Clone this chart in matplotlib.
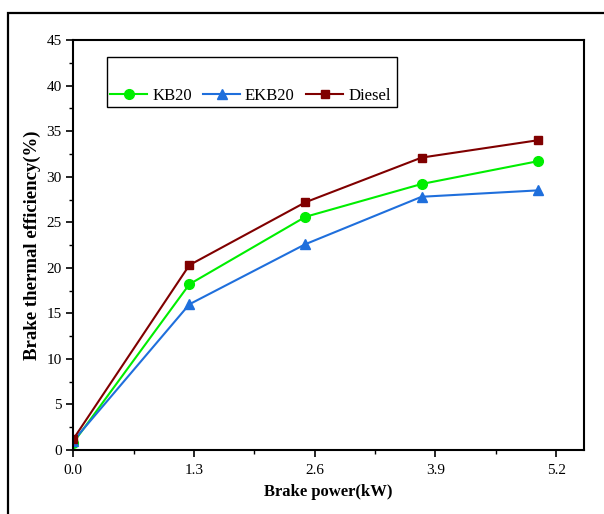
import matplotlib
matplotlib.use("Agg")
import matplotlib.pyplot as plt
from matplotlib.patches import Rectangle

# brake power (kW) and brake thermal efficiency (%) per fuel
power = [0.0, 1.25, 2.5, 3.75, 5.0]
kb20 = [0.8, 18.2, 25.6, 29.2, 31.7]
ekb20 = [1.0, 16.0, 22.6, 27.8, 28.5]
diesel = [1.2, 20.3, 27.2, 32.1, 34.0]

x_ticks = [0.0, 1.3, 2.6, 3.9, 5.2]
y_ticks = [0, 5, 10, 15, 20, 25, 30, 35, 40, 45]

plt.rcParams["font.family"] = ["Liberation Serif", "DejaVu Serif"]

fig = plt.figure(figsize=(6.04, 5.14), dpi=100)
ax = fig.add_axes([0.1214, 0.1245, 0.8456, 0.7975])

# outer frame around the whole figure
fig.patches.append(Rectangle((8 / 604, -0.1), 1.2, 1 - 13 / 514 + 0.1,
                             transform=fig.transFigure, fill=False,
                             edgecolor="black", linewidth=1.6))

ax.plot(power, kb20, "-o", color="#00ee00", markersize=7, linewidth=1.5, label="KB20")
ax.plot(power, ekb20, "-^", color="#1f6fdc", markersize=7.5, linewidth=1.5, label="EKB20")
ax.plot(power, diesel, "-s", color="#800000", markersize=6, linewidth=1.5, label="Diesel")

ax.set_xlim(0, 5.5)
ax.set_ylim(0, 45)
ax.set_xticks(x_ticks)
ax.set_xticklabels([f"{v:.1f}" for v in x_ticks])
ax.set_xticks([0.65, 1.95, 3.25, 4.55], minor=True)
ax.set_yticks(y_ticks)
ax.set_yticks([2.5 + 5 * i for i in range(9)], minor=True)
ax.tick_params(which="major", length=5, width=1.2, labelsize=11, direction="out")
ax.tick_params(axis="x", which="major", pad=5)
ax.tick_params(which="minor", length=3, width=1.0, direction="out")
for s in ax.spines.values():
    s.set_linewidth(1.5)

ax.set_xlabel("Brake power(kW)", fontsize=12, fontweight="bold", labelpad=5)
ax.set_ylabel("Brake thermal efficiency(%)", fontsize=13.5, fontweight="bold", labelpad=4)

# legend box with entries along its bottom edge
ax.add_patch(Rectangle((0.066, 0.8366), 0.567, 0.122, transform=ax.transAxes,
                       fill=False, edgecolor="black", linewidth=1.0, zorder=5))
ax.legend(loc="lower left", bbox_to_anchor=(0.066, 0.8366), ncol=3, frameon=False,
          fontsize=12, handlelength=2.2, handletextpad=0.3, columnspacing=0.7,
          borderpad=0.2, borderaxespad=0)

fig.savefig("out.png", dpi=100)
